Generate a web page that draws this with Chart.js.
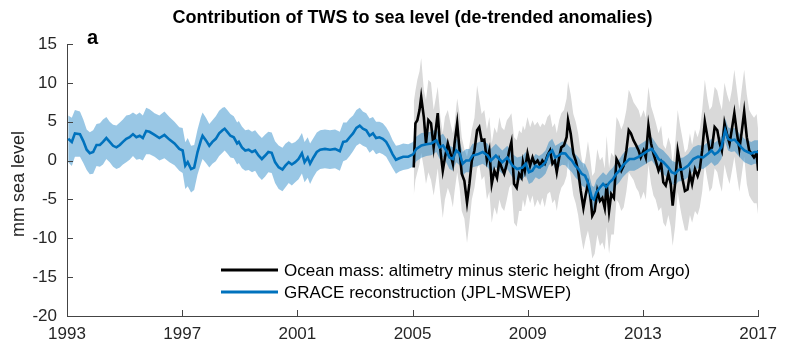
<!DOCTYPE html>
<html><head><meta charset="utf-8">
<script src="https://cdn.jsdelivr.net/npm/chart.js@4.4.0/dist/chart.umd.min.js"></script>
<style>html,body{margin:0;padding:0;background:#fff;}#wrap{width:785px;height:347px;}</style>
</head><body><div id="wrap"><canvas id="c" width="785" height="347"></canvas></div>
<script>
// ---- data (months since Jan 1993) ----
const xTickLabels = ['1993','1997','2001','2005','2009','2013','2017'];
const yTicks = [-20,-15,-10,-5,0,5,10,15];

const blueMonth = [
 0.5,2,3.3,5.4,6.8,8.2,9.5,10.9,12.3,13.7,
 15,16.4,17.8,19.2,20.6,22,23.3,24.7,26.1,27.5,
 28.9,30.3,31.6,33,34.4,36.5,38.5,40.6,42.7,44.8,
 46.8,48.2,49.3,50.3,51.7,53,54.4,55.8,56.5,57.9,
 59.3,60.6,62,63.4,64.8,65.7,66.8,68.1,69.5,70.9,
 71.6,72.9,74.3,75.7,77.1,78.4,79.8,81.2,82.6,83.9,
 85.3,86.7,88.2,89.8,91,92.4,93.7,95.1,96.5,97.9,
 99,100.3,101.3,102.7,104.1,105.5,107.5,109.6,111.7,113.7,
 115.1,116.5,117.8,119.2,120.6,122,123.3,124.7,126.1,127.5,
 128.8,130.2,131.6,133,134.3,135.7,137.1,138.5,140.1,142.2,
 144.2,145.6,147.7,149.8,151.8,153.9,155.3,156.7,158,159.4,
 160.8,162.2,163.6,164.9,166.3,167.7,169,171.1,173.2,175.3,
 176.6,178.7,180.1,181.4,183.5,185.6,187.6,189.8,191.2,192.5,
 193.9,195.3,196.7,198,199.4,200.8,202.2,203.5,204.9,206.3,
 207.7,209,210.4,211.8,213.2,214.5,215.9,217.3,218.7,219.6,
 220.6,222,223.4,224.7,226.1,227.5,228.9,230.2,231.6,233,
 234.4,236.4,238,240.3,242.3,243.7,245.1,246.5,248.5,250.6,
 252,253.4,254.8,256.8,258.9,261,263,265.1,267.2,268.5,
 269.9,271.3,272.7,274.3,275.5,276.8,278.2,279.6,281,282.3,
 283.7,285.1,286.5,288
];
const blueVal = [
 2.8,2.4,3.5,3.4,2.5,1.4,0.95,1.1,2.0,2.0,
 2.4,2.9,2.4,1.9,1.7,2.0,2.4,2.8,3.0,3.4,
 3.0,3.2,2.9,3.8,3.7,3.3,2.9,3.3,2.7,2.2,
 1.5,1.3,-0.65,-0.2,-1.1,-0.9,1.1,2.6,3.2,2.6,
 1.9,2.4,2.8,3.5,3.9,4.1,3.7,3.2,3.0,2.2,
 2.4,1.7,1.3,1.4,1.1,1.3,0.65,0.2,0.65,1.1,
 1.0,-0.2,-0.85,-1.15,-0.65,-0.2,-0.5,-0.2,0.2,0.95,
 -0.2,0.4,-0.4,0.4,1.1,1.4,1.5,1.4,1.5,1.2,
 2.4,2.5,3.0,3.5,4.2,4.5,4.1,3.9,3.2,3.5,
 2.9,3.0,2.8,2.4,1.7,0.8,0.1,0.3,0.5,0.5,
 0.8,1.5,1.95,2.1,2.2,2.6,1.7,1.95,1.3,0.4,
 0.2,1.3,0.9,-0.4,0,0,0.65,0.8,1.1,0.65,
 0,0.65,0.2,-0.2,0.4,-0.65,-1.1,-0.9,-0.4,-1.5,
 -1.3,-0.65,-0.9,-0.65,-0.2,0.9,1.3,0.4,0.65,0.95,
 0.9,0.4,0,-0.65,-1.1,-1.7,-1.95,-3.0,-4.8,-5.0,
 -4.1,-3.5,-3.0,-3.4,-2.8,-2.4,-1.7,-1.3,-0.65,-0.2,
 0.2,0.2,0.45,0.9,1.3,1.5,0.9,0.2,-0.2,-0.9,
 -1.5,-1.7,-1.2,-1.1,-0.65,0.2,0.5,0.4,0.9,1.3,
 0.8,1.1,1.7,3.9,2.8,2.6,2.7,2.2,1.7,1.3,
 1.1,0.9,1.1,1.1
];
const blueErr = [
 3.0,3.1,3.0,2.9,2.8,2.6,2.7,2.8,2.7,2.8,
 2.9,2.7,2.6,2.7,2.8,2.9,2.9,3.0,2.9,2.8,
 2.9,3.0,2.9,3.0,2.9,2.8,2.9,3.0,2.9,2.8,
 2.8,2.9,3.0,3.1,3.0,2.9,2.9,3.0,3.0,2.9,
 2.8,2.8,2.9,2.9,2.9,2.8,2.8,2.8,2.7,2.7,
 2.7,2.7,2.6,2.6,2.6,2.6,2.7,2.7,2.7,2.6,
 2.6,2.7,2.8,2.8,2.8,2.7,2.7,2.6,2.6,2.6,
 2.6,2.6,2.6,2.5,2.5,2.5,2.5,2.5,2.5,2.5,
 2.5,2.4,2.4,2.3,2.3,2.3,2.2,2.2,2.2,2.1,
 2.1,2.0,2.0,1.9,1.9,1.8,1.8,1.7,1.7,1.6,
 1.6,1.6,1.6,1.5,1.5,1.5,1.5,1.5,1.5,1.5,
 1.5,1.5,1.5,1.5,1.5,1.5,1.5,1.5,1.5,1.5,
 1.5,1.5,1.5,1.5,1.5,1.5,1.5,1.5,1.5,1.5,
 1.5,1.5,1.5,1.5,1.5,1.5,1.5,1.5,1.5,1.5,
 1.5,1.5,1.5,1.5,1.5,1.5,1.5,1.6,1.6,1.6,
 1.6,1.5,1.5,1.5,1.5,1.5,1.5,1.5,1.5,1.5,
 1.5,1.5,1.5,1.5,1.5,1.5,1.5,1.5,1.5,1.5,
 1.5,1.5,1.5,1.5,1.5,1.5,1.5,1.5,1.5,1.5,
 1.5,1.5,1.5,1.5,1.5,1.5,1.5,1.5,1.5,1.5,
 1.5,1.5,1.5,1.5
];

const blackMonth = [
 144.5,145.2,146.0,146.9,147.6,148.7,149.6,150.6,151.7,152.8,
 153.8,154.5,155.6,156.6,157.5,158.7,159.8,160.8,161.5,162.6,
 163.6,164.5,165.6,166.7,167.7,168.7,169.8,170.9,171.8,172.8,
 173.9,175.0,176.0,177.0,178.1,179.2,180.2,181.1,182.2,183.3,
 184.3,185.2,186.3,187.4,188.4,189.4,190.0,190.8,191.9,193.0,
 194.0,194.9,196.1,197.2,198.1,199.1,200.2,201.3,202.3,203.3,
 204.1,205.1,206.0,207.1,208.2,208.8,209.9,211.0,212.0,213.0,
 214.1,215.2,216.2,217.1,218.0,218.9,219.9,221.0,222.1,223.1,
 224.1,224.9,225.9,226.8,227.9,229.0,230.0,231.0,232.0,233.1,
 234.1,235.0,236.1,237.2,238.2,239.1,240.3,241.2,242.3,243.4,
 244.4,245.3,246.5,247.6,248.5,249.5,250.6,251.6,252.4,253.4,
 254.5,255.5,256.4,257.5,258.6,259.6,260.5,261.7,262.8,263.7,
 264.7,265.8,266.9,267.8,268.8,269.9,271.0,272.0,272.9,274.0,
 275.1,276.1,277.0,278.1,279.2,280.2,281.1,282.2,283.3,284.3,
 285.2,286.3,287.4,288.0
];
const blackVal = [
 -0.9,4.8,5.2,6.5,8.2,5.6,2.2,5.2,4.8,1.7,
 4.3,6.1,1.3,-1.3,0.4,2.2,0.9,-0.4,2.2,4.8,
 1.3,-1.7,-2.6,-5.4,-3.0,0,1.3,3.9,4.3,2.6,
 2.7,0,1.3,-3.0,-1.3,-2.2,0,-0.9,-1.7,-0.4,
 1.3,2.4,-3.0,-3.5,-1.7,-2.2,-0.2,-1.3,0.9,-0.65,
 0.4,-0.4,0,-0.65,0,-0.4,0.65,1.3,-0.4,0,
 -1.5,0.4,1.7,1.95,3.0,5.2,3.5,0.9,0,-1.3,
 -3.9,-6.1,-4.3,-3.0,-4.3,-7.1,-6.5,-3.9,-5.2,-4.8,
 -6.1,-3.0,-6.5,-4.3,-4.8,0.2,-0.4,-1.3,-0.65,1.3,
 3.9,3.5,2.6,1.95,1.3,0.4,1.3,0.4,4.5,2.2,
 0.9,0,-1.3,-0.4,-2.8,-3.2,-1.7,-3.0,-5.8,-3.0,
 1.3,-0.4,-2.2,-3.9,-3.7,-1.7,-3.0,-1.1,-2.0,-1.1,
 1.3,5.0,3.0,1.3,1.7,4.3,3.9,2.2,1.3,4.8,
 3.3,2.2,3.9,6.1,3.5,1.5,3.5,6.3,3.0,1.3,
 0.9,0.4,0.9,-1.3
];
const blackUpper = [
 7.5,9.0,10.4,11.5,13.2,9.1,7.8,10.4,10.0,6.5,
 8.2,9.5,5.6,3.5,5.6,6.5,4.8,3.5,4.8,8.0,
 6.0,3.0,1.5,0.5,2.0,4.0,5.5,9.7,8.0,6.0,
 6.5,4.0,5.6,2.2,4.3,3.5,5.6,4.3,3.9,5.2,
 5.6,6.1,3.0,2.6,3.9,3.5,4.5,3.9,5.6,4.3,
 5.2,4.5,5.0,4.3,4.8,4.5,5.6,6.0,4.3,4.8,
 3.5,5.2,6.1,6.5,8.0,10.2,8.5,6.0,5.0,3.5,
 1.0,-1.0,0.5,2.5,0.5,-2.0,-1.5,1.5,0,0.5,
 -1.0,3.2,-1.0,1.0,0.5,5.6,5.0,4.0,4.8,6.5,
 9.1,8.5,7.5,7.0,6.5,5.5,6.5,5.5,9.5,7.0,
 6.0,5.0,3.5,4.5,2.0,1.5,3.0,2.0,-0.5,2.0,
 6.5,4.5,3.0,1.0,1.5,3.5,2.0,4.0,3.0,4.0,
 6.5,10.4,8.0,6.5,7.0,9.5,9.0,7.5,6.5,10.0,
 8.5,7.5,9.0,11.7,9.0,6.5,9.0,11.7,8.5,6.5,
 6.0,5.5,6.0,4.0
];
const blackLower = [
 -4.5,-2.5,-1.5,-0.5,1.0,-1.0,-3.0,-1.5,-2.5,-4.5,
 -2.5,-1.0,-4.5,-7.4,-5.0,-3.5,-4.5,-6.0,-4.0,-1.5,
 -3.5,-6.5,-7.5,-10.6,-8.0,-5.0,-3.5,-1.0,-0.5,-2.5,
 -2.0,-5.0,-4.0,-8.0,-6.0,-7.0,-5.0,-6.0,-6.5,-5.0,
 -3.5,-3.0,-8.0,-8.5,-6.5,-6.5,-5.0,-6.0,-4.3,-5.5,
 -4.5,-6.0,-5.0,-5.8,-4.8,-6.0,-4.3,-4.0,-5.5,-5.0,
 -6.5,-4.5,-3.5,-3.0,-2.0,0.0,-2.0,-4.5,-5.5,-7.0,
 -9.5,-11.5,-10.0,-9.0,-10.5,-12.6,-12.0,-9.5,-11.0,-10.5,
 -11.5,-8.5,-12.0,-9.5,-9.5,-5.0,-5.5,-6.5,-6.0,-4.0,
 -1.5,-2.0,-2.5,-3.5,-4.0,-5.0,-4.0,-5.0,-0.5,-3.0,
 -4.5,-5.0,-6.5,-6.0,-8.0,-8.5,-7.0,-8.5,-11.0,-8.5,
 -4.0,-6.0,-7.5,-9.0,-9.0,-7.0,-8.0,-6.5,-7.0,-6.0,
 -4.0,-0.5,-2.5,-4.0,-3.5,-1.0,-1.5,-3.0,-4.0,-0.5,
 -2.0,-3.0,-1.5,0.5,-2.0,-4.0,-2.0,0.5,-3.0,-4.5,
 -5.0,-5.5,-5.5,-7.0
];

const seriesLabels = ['Ocean mass: altimetry minus steric height (from Argo)', 'GRACE reconstruction (JPL-MSWEP)'];
const titleText = 'Contribution of TWS to sea level (de-trended anomalies)';

// ---- build ----
const pts = (xs, ys) => xs.map((x, i) => ({x: x, y: ys[i]}));
const FONT = '"Liberation Sans", Arial, Helvetica, sans-serif';
const BLUE = '#0072bd';

const decorPlugin = {
  id: 'decor',
  afterDraw(chart) {
    const ctx = chart.ctx, xs = chart.scales.x, ys = chart.scales.y, a = chart.chartArea;
    ctx.save();
    // inward ticks
    ctx.strokeStyle = '#444'; ctx.lineWidth = 1;
    ctx.beginPath();
    yTicks.forEach(v => { const p = Math.round(ys.getPixelForValue(v)) + 0.5; ctx.moveTo(a.left, p); ctx.lineTo(a.left + 6, p); });
    xTickLabels.forEach((l, i) => { const p = Math.round(xs.getPixelForValue(i * 48)) + 0.5; ctx.moveTo(p, a.bottom); ctx.lineTo(p, a.bottom - 6); });
    ctx.stroke();
    // title
    ctx.fillStyle = '#000';
    ctx.font = 'bold 18px ' + FONT;
    ctx.textAlign = 'center'; ctx.textBaseline = 'middle';
    ctx.fillText(titleText, (a.left + a.right) / 2, 18);
    // panel letter
    ctx.font = 'bold 20px ' + FONT;
    ctx.textAlign = 'left';
    ctx.fillText('a', 87, 38);
    // y title
    ctx.font = '18px ' + FONT;
    ctx.fillStyle = '#262626';
    ctx.translate(19, (a.top + a.bottom) / 2 + 4);
    ctx.rotate(-Math.PI / 2);
    ctx.textAlign = 'center';
    ctx.fillText('mm sea level', 0, 0);
    ctx.restore();
    // legend
    ctx.save();
    const rows = [{c: '#000', t: seriesLabels[0], y: 270}, {c: BLUE, t: seriesLabels[1], y: 292}];
    ctx.font = '17px ' + FONT; ctx.textBaseline = 'middle'; ctx.textAlign = 'left';
    rows.forEach(r => {
      ctx.strokeStyle = r.c; ctx.lineWidth = 3;
      ctx.beginPath(); ctx.moveTo(221, r.y); ctx.lineTo(278, r.y); ctx.stroke();
      ctx.fillStyle = '#000';
      ctx.fillText(r.t, 284, r.y + 1);
    });
    ctx.restore();
  }
};

new Chart(document.getElementById('c'), {
  type: 'line',
  data: {
    datasets: [
      {label: seriesLabels[1], data: pts(blueMonth, blueVal), borderColor: BLUE, borderWidth: 2.6, pointRadius: 0, fill: false},
      {label: seriesLabels[0], data: pts(blackMonth, blackVal), borderColor: '#000', borderWidth: 2.6, pointRadius: 0, fill: false},
      {label: 'blueUpper', data: pts(blueMonth, blueVal.map((v, i) => v + blueErr[i])), borderWidth: 0, pointRadius: 0, borderColor: 'rgba(0,0,0,0)', backgroundColor: 'rgba(0,114,189,0.40)', fill: '+1'},
      {label: 'blueLower', data: pts(blueMonth, blueVal.map((v, i) => v - blueErr[i])), borderWidth: 0, pointRadius: 0, borderColor: 'rgba(0,0,0,0)', fill: false},
      {label: 'grayUpper', data: pts(blackMonth, blackUpper), borderWidth: 0, pointRadius: 0, borderColor: 'rgba(0,0,0,0)', backgroundColor: '#d9d9d9', fill: '+1'},
      {label: 'grayLower', data: pts(blackMonth, blackLower), borderWidth: 0, pointRadius: 0, borderColor: 'rgba(0,0,0,0)', fill: false}
    ]
  },
  options: {
    responsive: false, animation: false, devicePixelRatio: 1,
    layout: {padding: {top: 44, right: 23, left: 0, bottom: 0}},
    elements: {line: {tension: 0}},
    plugins: {legend: {display: false}, tooltip: {enabled: false}, title: {display: false}},
    scales: {
      x: {
        type: 'linear', min: 0, max: 288,
        afterBuildTicks: s => { s.ticks = xTickLabels.map((l, i) => ({value: i * 48})); },
        afterFit: s => { s.height = 31; },
        ticks: {callback: v => xTickLabels[Math.round(v / 48)], font: {family: FONT, size: 17}, color: '#262626', padding: 8, maxRotation: 0, autoSkip: false},
        grid: {display: false, drawTicks: false},
        border: {display: true, color: '#444', width: 1}
      },
      y: {
        min: -20, max: 15,
        afterBuildTicks: s => { s.ticks = yTicks.map(v => ({value: v})); },
        afterFit: s => { s.width = 67; },
        ticks: {callback: v => String(v), font: {family: FONT, size: 17}, color: '#262626', padding: 10},
        grid: {display: false, drawTicks: false},
        border: {display: true, color: '#444', width: 1}
      }
    }
  },
  plugins: [decorPlugin]
});
</script>
</body></html>
